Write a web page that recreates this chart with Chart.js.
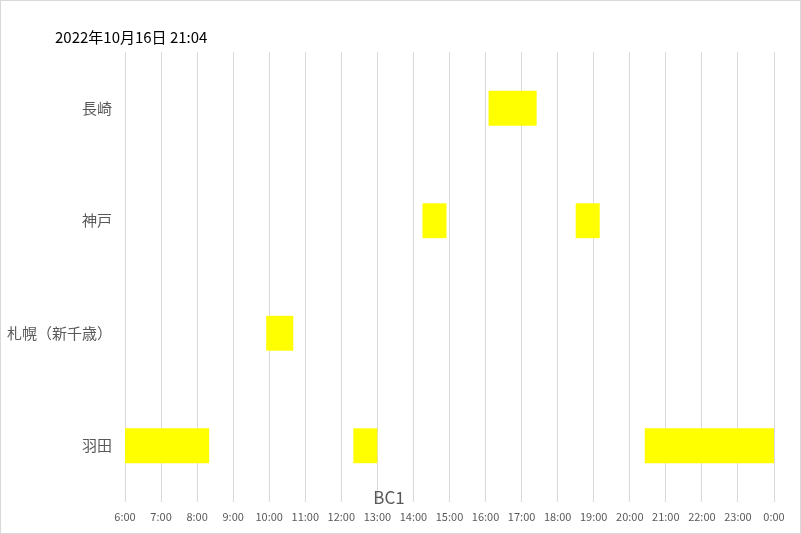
<!DOCTYPE html>
<html>
<head>
<meta charset="utf-8">
<script src="https://cdn.jsdelivr.net/npm/chart.js@4"></script>
<style>
  body { margin: 0; background: #fff; }
  #wrap { position: relative; width: 801px; height: 534px; }
  #frame { position: absolute; left: 0; top: 0; width: 801px; height: 534px;
    box-sizing: border-box; border: 1px solid #d9d9d9; pointer-events: none; }
  #stamp { position: absolute; left: 55px; top: 27px; font: 15px 'Noto Sans CJK JP', sans-serif;
    line-height: 20px; color: #000; white-space: nowrap; }
  #title { position: absolute; left: 389px; top: 487px; transform: translateX(-50%);
    font: 17px 'Noto Sans CJK JP', sans-serif; color: #595959; white-space: nowrap; line-height: 20px; }
</style>
</head>
<body>
<div id="wrap">
  <canvas id="gantt" width="801" height="534"></canvas>
  <div id="stamp">2022年10月16日 21:04</div>
  <div id="title">BC1</div>
  <div id="frame"></div>
</div>
<script>
const categories = ['長崎', '神戸', '札幌（新千歳）', '羽田'];

// one entry per bar
const barRows = ['羽田', '羽田', '羽田', '札幌（新千歳）', '神戸', '神戸', '長崎'];
const barStarts = ['6:00', '12:20', '20:25', '9:55', '14:15', '18:30', '16:05'];
const barEnds = ['8:20', '13:00', '24:00', '10:40', '14:55', '19:10', '17:25'];

const axisStart = 6;
const axisEnd = 24;

function toHours(t) {
  const [h, m] = t.split(':').map(Number);
  return h + m / 60;
}

const bars = barRows.map((row, i) => ({
  y: row,
  x: [toHours(barStarts[i]), toHours(barEnds[i])],
}));

const labelFont = { family: "'Noto Sans CJK JP', sans-serif" };

new Chart(document.getElementById('gantt').getContext('2d'), {
  type: 'bar',
  data: {
    labels: categories,
    datasets: [
      {
        data: bars,
        backgroundColor: '#ffff00',
        borderWidth: 0,
        categoryPercentage: 1,
        barPercentage: 0.31,
      },
    ],
  },
  options: {
    indexAxis: 'y',
    responsive: false,
    animation: false,
    devicePixelRatio: 1,
    layout: { padding: { top: 52, right: 27, left: 0, bottom: 0 } },
    plugins: {
      legend: { display: false },
      tooltip: { enabled: false },
    },
    scales: {
      x: {
        type: 'linear',
        min: axisStart,
        max: axisEnd,
        grid: { color: '#d9d9d9', lineWidth: 1, drawTicks: false },
        border: { display: false },
        ticks: {
          stepSize: 1,
          padding: 8,
          color: '#595959',
          font: { ...labelFont, size: 11 },
          callback: (v) => (v % 24) + ':00',
        },
        afterFit: (scale) => { scale.height = 32; },
      },
      y: {
        grid: { display: false, drawTicks: false },
        border: { display: false },
        ticks: {
          padding: 13,
          color: '#595959',
          font: { ...labelFont, size: 15 },
        },
        afterFit: (scale) => { scale.width = 125; },
      },
    },
  },
});
</script>
</body>
</html>
